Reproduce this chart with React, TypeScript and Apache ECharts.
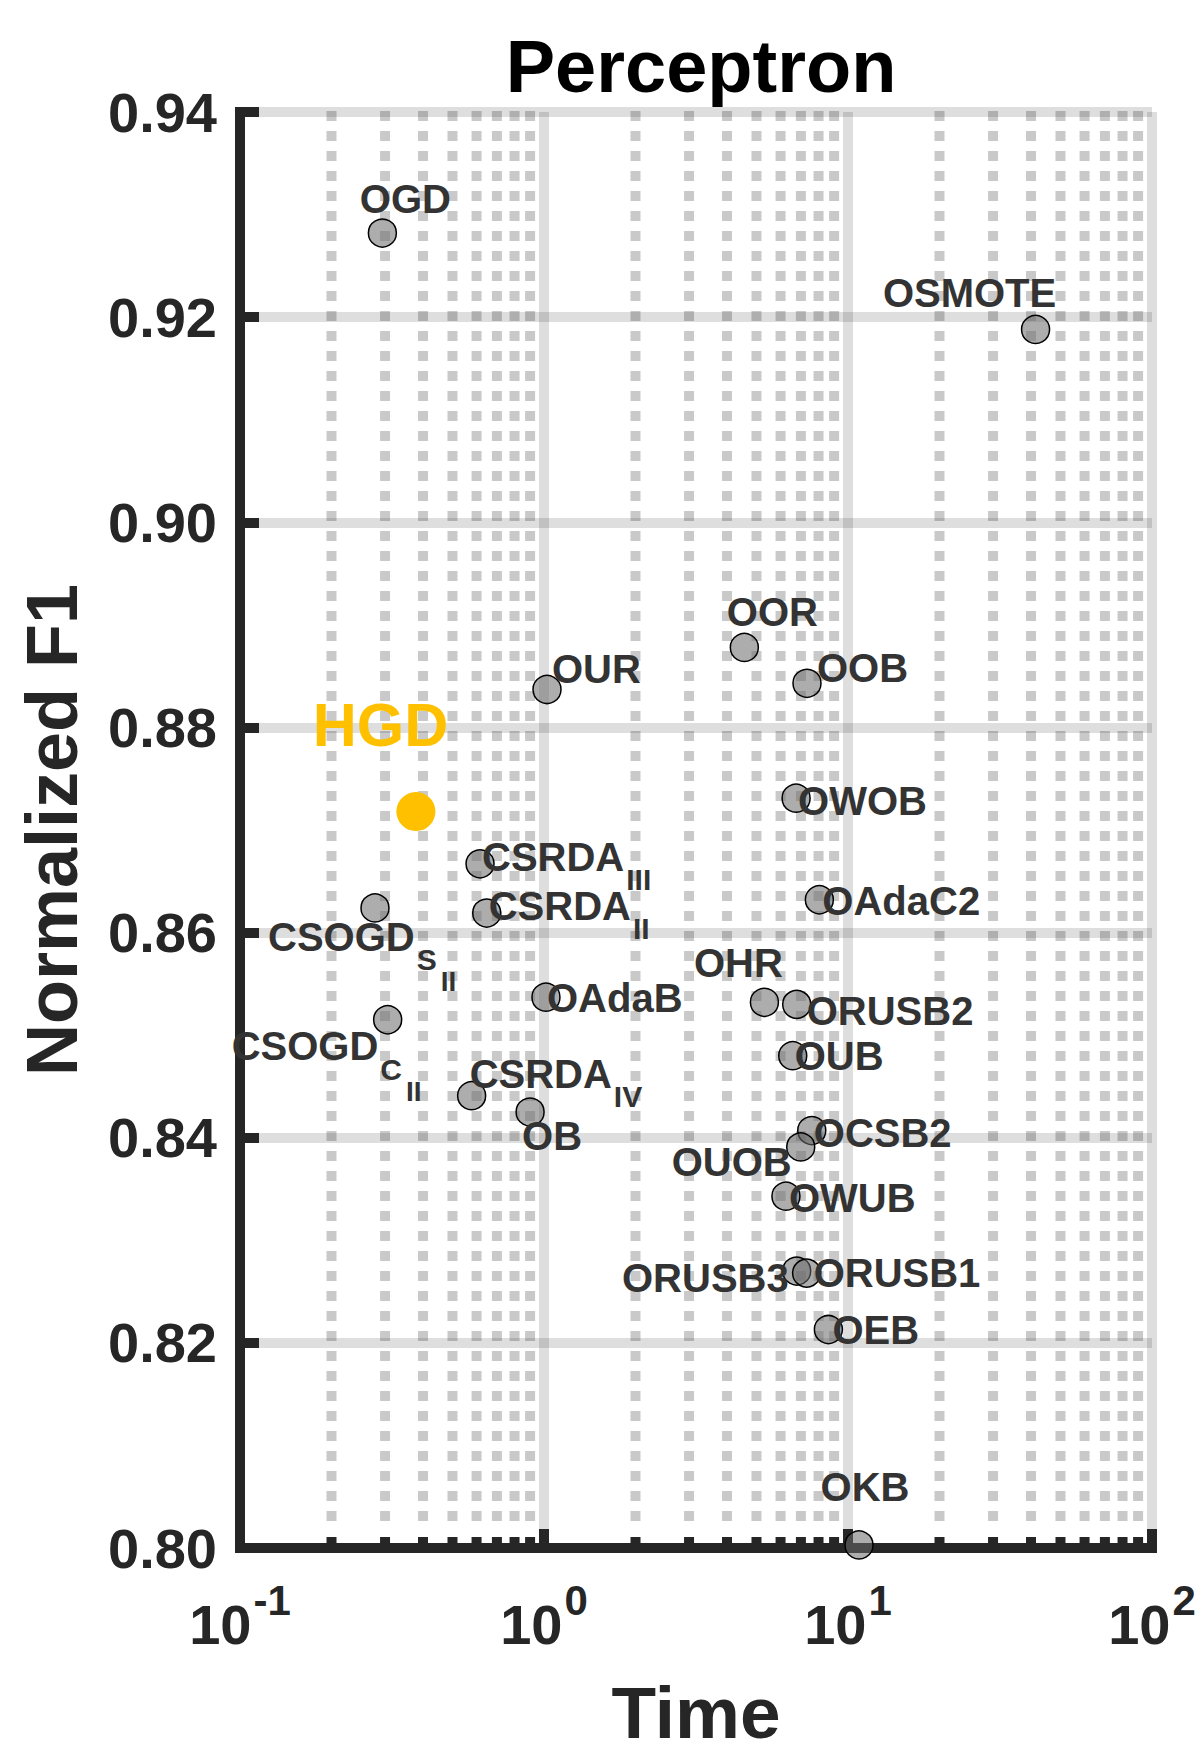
import React, { useEffect, useRef } from 'react';
import * as echarts from 'echarts';

const FONT = "'Liberation Sans', Arial, Helvetica, sans-serif";

// ---------------- data ----------------
const methodNames = [
  'OGD', 'OSMOTE', 'OUR', 'OOR', 'OOB', 'OWOB', 'OAdaC2', 'CSRDA_III', 'CSRDA_II',
  'CSOGD_S_II', 'OAdaB', 'CSOGD_C_II', 'CSRDA_IV', 'OB', 'OHR', 'ORUSB2', 'OUB',
  'OCSB2', 'OUOB', 'OWUB', 'ORUSB3', 'ORUSB1', 'OEB', 'OKB',
];
const methodTimes = [
  0.294, 41.4, 1.023, 4.56, 7.33, 6.75, 8.05, 0.616, 0.648,
  0.278, 1.015, 0.306, 0.578, 0.9, 5.31, 6.78, 6.58,
  7.6, 6.99, 6.25, 6.78, 7.31, 8.62, 10.87,
];
const methodF1 = [
  0.9282, 0.9188, 0.8837, 0.8878, 0.8843, 0.8731, 0.8632, 0.8667, 0.8619,
  0.8624, 0.8537, 0.8515, 0.8441, 0.8425, 0.8532, 0.853, 0.848,
  0.8407, 0.8391, 0.8343, 0.827, 0.8268, 0.8213, 0.8003,
];
const labelMain = [
  'OGD', 'OSMOTE', 'OUR', 'OOR', 'OOB', 'OWOB', 'OAdaC2', 'CSRDA', 'CSRDA',
  'CSOGD', 'OAdaB', 'CSOGD', 'CSRDA', 'OB', 'OHR', 'ORUSB2', 'OUB',
  'OCSB2', 'OUOB', 'OWUB', 'ORUSB3', 'ORUSB1', 'OEB', 'OKB',
];
const labelSub = [
  '', '', '', '', '', '', '', 'III', 'II',
  'S', '', 'C', 'IV', '', '', '', '',
  '', '', '', '', '', '', '',
];
const labelSubSub = [
  '', '', '', '', '', '', '', '', '',
  'II', '', 'II', '', '', '', '', '',
  '', '', '', '', '', '', '',
];

const hgdName = 'HGD';
const hgdTime = 0.379;
const hgdF1 = 0.8718;

const yTickLabels = ['0.80', '0.82', '0.84', '0.86', '0.88', '0.90', '0.92', '0.94'];
const xTickExponents = ['-1', '0', '1', '2'];
const xMinorTicks = [
  0.2, 0.3, 0.4, 0.5, 0.6, 0.7, 0.8, 0.9,
  2, 3, 4, 5, 6, 7, 8, 9,
  20, 30, 40, 50, 60, 70, 80, 90,
];

// ---------------- layout (label anchors: side, dx, dy of text centre) ----------------
const labelLayout: Record<string, [string, number, number]> = {
  OGD: ['c', 23, -34],
  OSMOTE: ['c', -66, -36],
  OUR: ['l', 5, -20],
  OOR: ['c', 28, -35],
  OOB: ['l', 10, -15],
  OWOB: ['l', 2, 3],
  OAdaC2: ['l', 3, 1],
  CSRDA_III: ['l', 2, -7],
  CSRDA_II: ['l', 2, -7.5],
  CSOGD_S_II: ['l', -107, 29],
  OAdaB: ['l', 1, 1],
  CSOGD_C_II: ['l', -156, 26.5],
  CSRDA_IV: ['l', -2, -22],
  OB: ['l', -8, 23.5],
  OHR: ['c', -26, -39],
  ORUSB2: ['l', 10, 7],
  OUB: ['l', 2, 0],
  OCSB2: ['l', 2, 2],
  OUOB: ['r', -9, 15],
  OWUB: ['l', 3, 2],
  ORUSB3: ['r', -8, 7],
  ORUSB1: ['l', 7, 0],
  OEB: ['l', 4, 0],
  OKB: ['c', 6, -57.5],
};

const SYMBOL = 28;
const BORDER = 1.5;
const HGD_SIZE = 39;
const AXIS_COLOR = '#262626';
const LABEL_COLOR = '#333333';
const NO_BORDER = { textBorderWidth: 0, textBorderColor: 'transparent', textShadowBlur: 0 };

const alignOf = (a: string) => (a === 'l' ? 'left' : a === 'r' ? 'right' : 'center');

export default function App() {
  const ref = useRef<HTMLDivElement>(null);

  useEffect(() => {
    if (!ref.current) return;
    const chart = echarts.init(ref.current, null, { renderer: 'svg' });
    const half = (SYMBOL + BORDER) / 2;

    const scatterData = methodNames.map((n, i) => {
      const [anchor, ax, ay] = labelLayout[n];
      let txt = `{m|${labelMain[i]}}`;
      if (labelSub[i]) txt += `{s|${labelSub[i]}}`;
      if (labelSubSub[i]) txt += `{t|${labelSubSub[i]}}`;
      return {
        name: n,
        value: [methodTimes[i], methodF1[i]],
        label: {
          show: true,
          formatter: txt,
          position: [half + ax, half + ay - 20],
          align: alignOf(anchor),
          opacity: 1,
          ...NO_BORDER,
        },
      };
    });

    const yMin = 0.8;
    const yMax = 0.94;

    const option: any = {
      animation: false,
      backgroundColor: '#ffffff',
      textStyle: { fontFamily: FONT },
      title: {
        text: 'Perceptron',
        left: 696,
        top: 24,
        textAlign: 'center',
        textStyle: { fontSize: 74, fontWeight: 'bold', color: '#000000', fontFamily: FONT },
      },
      grid: { left: 240, right: 48, top: 112, bottom: 207, outerBoundsMode: 'none' },
      xAxis: {
        type: 'log',
        logBase: 10,
        min: 0.1,
        max: 100,
        name: 'Time',
        nameLocation: 'middle',
        nameGap: 128,
        nameTextStyle: { fontSize: 73, fontWeight: 'bold', color: AXIS_COLOR, fontFamily: FONT },
        axisLine: { show: true, lineStyle: { color: AXIS_COLOR, width: 10, cap: 'square' } },
        axisTick: { show: true, inside: true, length: 19, lineStyle: { color: AXIS_COLOR, width: 10 } },
        minorTick: { show: false },
        splitLine: { show: true, lineStyle: { color: 'rgba(0,0,0,0.13)', width: 10 } },
        axisLabel: {
          margin: 24,
          showMinLabel: true,
          showMaxLabel: true,
          formatter: (v: number) => {
            const e = Math.round(Math.log10(v));
            const idx = e + 1;
            return `{b|10}{s|${xTickExponents[idx]}}`;
          },
          rich: {
            b: {
              fontSize: 56, lineHeight: 56, fontWeight: 'bold', color: AXIS_COLOR,
              fontFamily: FONT, verticalAlign: 'top', padding: [24, 0, 0, 0],
            },
            s: {
              fontSize: 42, lineHeight: 42, fontWeight: 'bold', color: AXIS_COLOR,
              fontFamily: FONT, verticalAlign: 'top', padding: [7, 0, 0, 2],
            },
          },
        },
      },
      yAxis: {
        type: 'value',
        min: yMin,
        max: yMax,
        interval: 0.02,
        name: 'Normalized F1',
        nameLocation: 'middle',
        nameGap: 152,
        nameTextStyle: { fontSize: 72, fontWeight: 'bold', color: AXIS_COLOR, fontFamily: FONT },
        axisLine: { show: true, lineStyle: { color: AXIS_COLOR, width: 10, cap: 'square' } },
        axisTick: { show: true, inside: true, length: 19, lineStyle: { color: AXIS_COLOR, width: 10 } },
        splitLine: { show: true, lineStyle: { color: 'rgba(0,0,0,0.13)', width: 10 } },
        axisLabel: {
          margin: 23,
          fontSize: 56,
          fontWeight: 'bold',
          color: AXIS_COLOR,
          fontFamily: FONT,
          formatter: (v: number) => yTickLabels[Math.round((v - yMin) / 0.02)],
        },
      },
      series: [
        {
          type: 'custom',
          z: 1,
          silent: true,
          clip: false,
          data: xMinorTicks.map((v) => [v, yMin]),
          encode: { x: 0, y: 1 },
          renderItem: (_params: any, api: any) => {
            const v = api.value(0);
            const top = api.coord([v, yMax]);
            const bot = api.coord([v, yMin]);
            return {
              type: 'group',
              children: [
                {
                  type: 'line',
                  shape: { x1: top[0], y1: top[1] - 1, x2: bot[0], y2: bot[1] - 17 },
                  style: { stroke: 'rgba(0,0,0,0.21)', lineWidth: 10, lineDash: [10, 10] },
                },
                {
                  type: 'rect',
                  shape: { x: bot[0] - 5, y: bot[1] - 11, width: 10, height: 11 },
                  style: { fill: AXIS_COLOR },
                },
              ],
            };
          },
        },
        {
          type: 'scatter',
          name: 'methods',
          z: 3,
          clip: false,
          symbol: 'circle',
          symbolSize: SYMBOL,
          emphasis: { disabled: true },
          itemStyle: {
            color: 'rgba(105,105,105,0.55)', borderColor: '#000000', borderWidth: BORDER, opacity: 1,
          },
          label: {
            show: true,
            opacity: 1,
            ...NO_BORDER,
            rich: {
              m: {
                fontSize: 40, lineHeight: 40, fontWeight: 'bold', color: LABEL_COLOR,
                fontFamily: FONT, verticalAlign: 'top', ...NO_BORDER,
              },
              s: {
                fontSize: 30, lineHeight: 30, fontWeight: 'bold', color: LABEL_COLOR,
                fontFamily: FONT, verticalAlign: 'top', padding: [28, 0, 0, 2], ...NO_BORDER,
              },
              t: {
                fontSize: 28, lineHeight: 28, fontWeight: 'bold', color: LABEL_COLOR,
                fontFamily: FONT, verticalAlign: 'top', padding: [51, 0, 0, 4], ...NO_BORDER,
              },
            },
          },
          data: scatterData,
        },
        {
          type: 'scatter',
          name: hgdName,
          z: 4,
          clip: false,
          symbol: 'circle',
          symbolSize: HGD_SIZE,
          emphasis: { disabled: true },
          itemStyle: { color: '#FFC000', opacity: 1 },
          label: {
            show: true,
            formatter: `{h|${hgdName}}`,
            position: [HGD_SIZE / 2 - 35.5, HGD_SIZE / 2 - 87 - 30],
            align: 'center',
            opacity: 1,
            ...NO_BORDER,
            rich: {
              h: {
                fontSize: 61, lineHeight: 60, fontWeight: 'bold', color: '#FFC000',
                fontFamily: FONT, verticalAlign: 'top', ...NO_BORDER,
              },
            },
          },
          data: [{ name: hgdName, value: [hgdTime, hgdF1] }],
        },
      ],
    };

    chart.setOption(option);
    return () => chart.dispose();
  }, []);

  return (
    <div
      ref={ref}
      style={{ position: 'absolute', left: 0, top: 0, width: 1200, height: 1755, background: '#fff' }}
    />
  );
}
